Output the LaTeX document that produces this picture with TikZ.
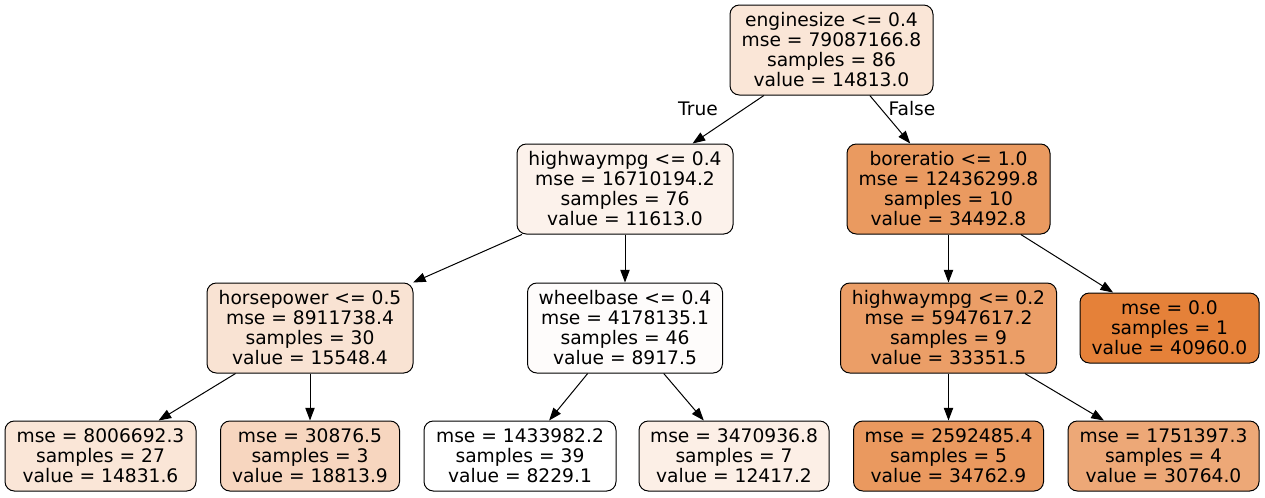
\documentclass[tikz,border=0pt]{standalone}
\usepackage{fontspec}
\setmainfont{DejaVu Sans}
\usetikzlibrary{arrows.meta}
\definecolor{cRoot}{HTML}{FAE6D7}
\definecolor{cHwA}{HTML}{FCF2EB}
\definecolor{cBore}{HTML}{EA9A60}
\definecolor{cHorse}{HTML}{F9E3D3}
\definecolor{cWheel}{HTML}{FEFCFB}
\definecolor{cHwB}{HTML}{EB9E67}
\definecolor{cMax}{HTML}{E58139}
\definecolor{cLa}{HTML}{FAE6D7}
\definecolor{cLb}{HTML}{F7D6BF}
\definecolor{cLc}{HTML}{FFFFFF}
\definecolor{cLd}{HTML}{FCEFE6}
\definecolor{cLe}{HTML}{EA995F}
\definecolor{cLf}{HTML}{EDA877}
\tikzset{
  treenode/.style={draw=black, line width=0.75pt, rounded corners=7pt, inner sep=0pt,
    align=center, font=\fontsize{14pt}{15pt}\selectfont},
  inner4/.style={treenode, minimum height=67.5pt},
  leaf3/.style={treenode, minimum height=52.5pt},
  edge/.style={draw=black, line width=0.75pt, -{Triangle[length=9.5pt,width=7pt]}},
  elabel/.style={font=\fontsize{14pt}{15pt}\selectfont, inner sep=0pt}
}
\begin{document}
\begin{tikzpicture}[x=0.75pt, y=-0.75pt]
\useasboundingbox (0,0) rectangle (1265,497);
\node[inner4, fill=cRoot, minimum width=152.25pt] (root) at (831.5,50)
  {enginesize <= 0.4\\mse = 79087166.8\\samples = 86\\value = 14813.0};
\node[inner4, fill=cHwA, minimum width=162pt] (hwa) at (625,189)
  {highwaympg <= 0.4\\mse = 16710194.2\\samples = 76\\value = 11613.0};
\node[inner4, fill=cBore, minimum width=152.25pt] (bore) at (948.5,189)
  {boreratio <= 1.0\\mse = 12436299.8\\samples = 10\\value = 34492.8};
\node[inner4, fill=cHorse, minimum width=154.5pt] (horse) at (310,328)
  {horsepower <= 0.5\\mse = 8911738.4\\samples = 30\\value = 15548.4};
\node[inner4, fill=cWheel, minimum width=146.25pt] (wheel) at (625,328)
  {wheelbase <= 0.4\\mse = 4178135.1\\samples = 46\\value = 8917.5};
\node[inner4, fill=cHwB, minimum width=162pt] (hwb) at (948.5,328)
  {highwaympg <= 0.2\\mse = 5947617.2\\samples = 9\\value = 33351.5};
\node[leaf3, fill=cMax, minimum width=134.25pt] (lmax) at (1169.5,328)
  {mse = 0.0\\samples = 1\\value = 40960.0};
\node[leaf3, fill=cLa, minimum width=143.25pt] (la) at (100.5,456)
  {mse = 8006692.3\\samples = 27\\value = 14831.6};
\node[leaf3, fill=cLb, minimum width=134.25pt] (lb) at (310,456)
  {mse = 30876.5\\samples = 3\\value = 18813.9};
\node[leaf3, fill=cLc, minimum width=144pt] (lc) at (520,456)
  {mse = 1433982.2\\samples = 39\\value = 8229.1};
\node[leaf3, fill=cLd, minimum width=142.5pt] (ld) at (734,456)
  {mse = 3470936.8\\samples = 7\\value = 12417.2};
\node[leaf3, fill=cLe, minimum width=142.5pt] (le) at (948.5,456)
  {mse = 2592485.4\\samples = 5\\value = 34762.9};
\node[leaf3, fill=cLf, minimum width=143.25pt] (lf) at (1163.5,456)
  {mse = 1751397.3\\samples = 4\\value = 30764.0};
\draw[edge] (root) -- (hwa);
\draw[edge] (root) -- (bore);
\draw[edge] (hwa) -- (horse);
\draw[edge] (hwa) -- (wheel);
\draw[edge] (bore) -- (hwb);
\draw[edge] (bore) -- (lmax);
\draw[edge] (horse) -- (la);
\draw[edge] (horse) -- (lb);
\draw[edge] (wheel) -- (lc);
\draw[edge] (wheel) -- (ld);
\draw[edge] (hwb) -- (le);
\draw[edge] (hwb) -- (lf);
\node[elabel] (ltrue) at (698,109) {True};
\node[elabel] (lfalse) at (912,109) {False};
\end{tikzpicture}
\end{document}
